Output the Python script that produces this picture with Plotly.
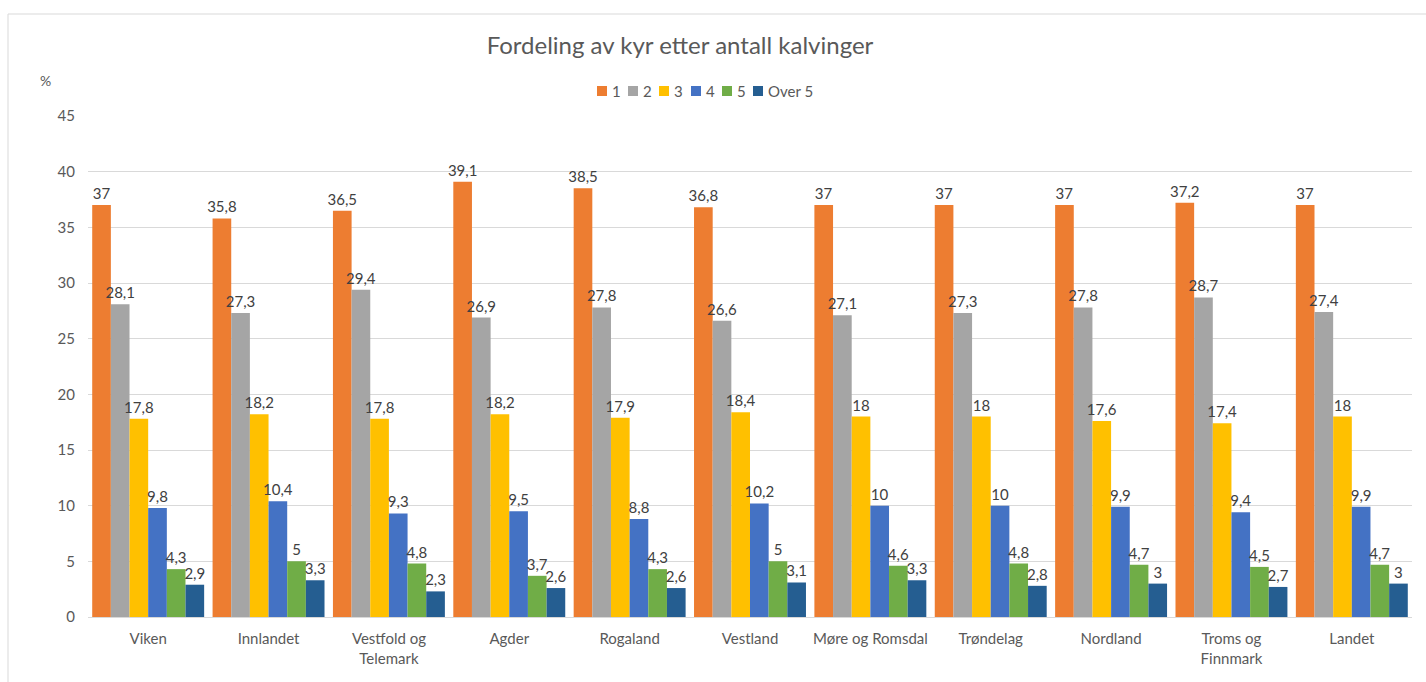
import plotly.graph_objects as go

regioner = ["Viken", "Innlandet", "Vestfold og<br>Telemark", "Agder", "Rogaland", "Vestland",
            "Møre og Romsdal", "Trøndelag", "Nordland", "Troms og<br>Finnmark", "Landet"]

k1 = [37, 35.8, 36.5, 39.1, 38.5, 36.8, 37, 37, 37, 37.2, 37]
k2 = [28.1, 27.3, 29.4, 26.9, 27.8, 26.6, 27.1, 27.3, 27.8, 28.7, 27.4]
k3 = [17.8, 18.2, 17.8, 18.2, 17.9, 18.4, 18, 18, 17.6, 17.4, 18]
k4 = [9.8, 10.4, 9.3, 9.5, 8.8, 10.2, 10, 10, 9.9, 9.4, 9.9]
k5 = [4.3, 5, 4.8, 3.7, 4.3, 5, 4.6, 4.8, 4.7, 4.5, 4.7]
over5 = [2.9, 3.3, 2.3, 2.6, 2.6, 3.1, 3.3, 2.8, 3, 2.7, 3]

serier = [("1", k1, "#ED7D31"), ("2", k2, "#A5A5A5"), ("3", k3, "#FFC000"),
          ("4", k4, "#4472C4"), ("5", k5, "#70AD47"), ("Over 5", over5, "#255E91")]

grå = "#595959"
font = "Lato, 'Open Sans', sans-serif"

W, H = 1426, 682
ml, mr, mt, mb = 88, 14, 116, 65
pw, ph = W - ml - mr, H - mt - mb


def px_x(x):
    return (x - ml) / pw


def px_y(y):
    return 1 - (y - mt) / ph


fig = go.Figure()
for navn, verdier, farge in serier:
    fig.add_trace(go.Bar(
        name=navn,
        x=regioner,
        y=verdier,
        marker_color=farge,
        marker_line_width=0,
        text=[f"{v:g}".replace(".", ",") for v in verdier],
        textposition="outside",
        constraintext="none",
        cliponaxis=False,
        textfont=dict(size=15, color="#404040", family=font),
        showlegend=False,
    ))

# forklaring tegnet for hånd, for tett plassering som i originalen
shapes = [dict(type="rect", xref="paper", yref="paper", x0=px_x(8), x1=1.2,
               y0=-0.2, y1=px_y(14), line=dict(color="#D9D9D9", width=1))]
annotations = [dict(text="%", xref="paper", yref="paper", x=px_x(45), y=px_y(80),
                    xanchor="center", yanchor="middle", showarrow=False,
                    font=dict(size=14, color=grå))]
legend_x = [597, 628, 659, 691, 722, 753]
for (navn, _, farge), lx in zip(serier, legend_x):
    shapes.append(dict(type="rect", xref="paper", yref="paper", x0=px_x(lx), x1=px_x(lx + 10),
                       y0=px_y(96), y1=px_y(86), fillcolor=farge, line=dict(width=0)))
    annotations.append(dict(text=navn, xref="paper", yref="paper", x=px_x(lx + 13), y=px_y(91),
                            xanchor="left", yanchor="middle", showarrow=False,
                            font=dict(size=15, color=grå)))

fig.update_layout(
    width=W,
    height=H,
    barmode="group",
    bargap=0.07,
    bargroupgap=0,
    plot_bgcolor="white",
    paper_bgcolor="white",
    font=dict(family=font, color=grå, size=15),
    title=dict(text="Fordeling av kyr etter antall kalvinger", xref="paper", x=px_x(680),
               xanchor="center", y=1 - 46 / H, yanchor="middle", font=dict(size=24, color=grå)),
    margin=dict(l=ml, r=mr, t=mt, b=mb),
    yaxis=dict(range=[0, 45], dtick=5, showgrid=True, gridcolor="#D9D9D9",
               zeroline=False, tickfont=dict(size=15, color=grå), ticks="",
               ticklabelstandoff=12),
    xaxis=dict(showline=True, linecolor="#D9D9D9", linewidth=1,
               tickfont=dict(size=15, color=grå), ticks="", ticklabelstandoff=8),
    shapes=shapes,
    annotations=annotations,
)

fig.write_html("out.html", config={"displayModeBar": False},
               post_script="document.body.style.margin='0';")
